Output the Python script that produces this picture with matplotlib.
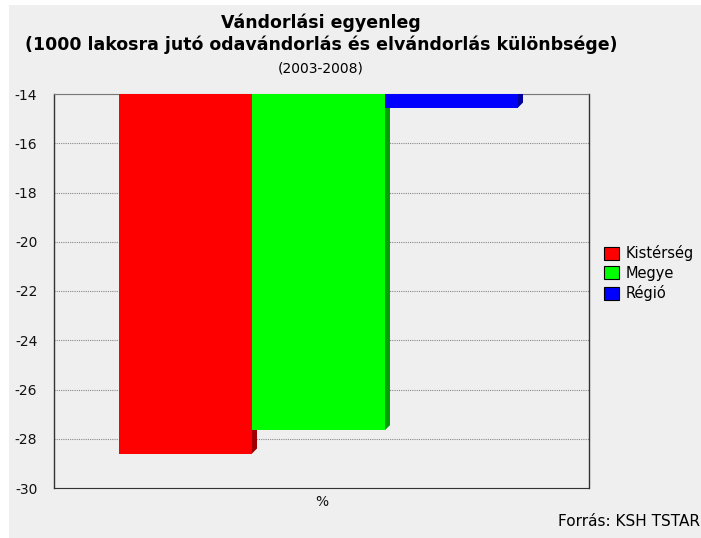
import matplotlib.pyplot as plt
from matplotlib.patches import Polygon, Patch

# values
series = ["Kistérség", "Megye", "Régió"]
values = [-28.6, -27.65, -14.55]
colors = ["#ff0000", "#00ff00", "#0000ff"]
side_colors = ["#a00000", "#00a000", "#0000a0"]
category = "%"
yticks = [-14, -16, -18, -20, -22, -24, -26, -28, -30]

BG = "#efefef"
plt.rcParams["font.family"] = ["DejaVu Sans"]
plt.rcParams["axes.unicode_minus"] = False

fig = plt.figure(figsize=(7.01, 5.38), dpi=100, facecolor="white")
fig.patches.append(plt.Rectangle((9 / 701, 0), 1, 1 - 5 / 538, transform=fig.transFigure,
                                 facecolor=BG, edgecolor="none", zorder=-10))
ax = fig.add_axes([54 / 701, 1 - 488 / 538, 535 / 701, 394 / 538])
ax.set_facecolor(BG)

ymin, ymax = -30, -14
xmin, xmax = -0.5, 0.5
ax.set_xlim(xmin, xmax)
ax.set_ylim(ymin, ymax)

w = 0.2486
# 3d depth of the side face, ~5px
ax_w_px, ax_h_px = 535, 394
dx = 5 * (xmax - xmin) / ax_w_px
dy = 5 * (ymax - ymin) / ax_h_px

for i, (name, v, c, sc) in enumerate(zip(series, values, colors, side_colors)):
    xc = (i - 1) * w - 3 * (xmax - xmin) / ax_w_px
    ax.bar(xc, v - ymax, bottom=ymax, width=w, color=c, edgecolor="none", zorder=3 + 2 * i)
    xr = xc + w / 2
    side = Polygon([(xr, v), (xr + dx, v + dy), (xr + dx, ymax), (xr, ymax)],
                   closed=True, facecolor=sc, edgecolor="none", zorder=4 + 2 * i,
                   clip_on=True)
    ax.add_patch(side)

ax.set_yticks(yticks)
ax.set_xticks([0])
ax.set_xticklabels([category])
ax.tick_params(axis="both", length=0, labelsize=10, colors="#111111")
ax.tick_params(axis="y", pad=12)
ax.tick_params(axis="x", pad=5)
ax.yaxis.grid(True, linestyle=(0, (1, 1)), color="#888888", linewidth=0.8, zorder=1)
ax.set_axisbelow(True)

for s in ["left", "right"]:
    ax.spines[s].set_color("#333333")
    ax.spines[s].set_linewidth(1.0)
ax.spines["top"].set_linestyle((0, (1, 1)))
ax.spines["top"].set_color("#777777")
ax.spines["bottom"].set_linestyle((0, (1, 1)))
ax.spines["bottom"].set_color("#333333")

fig.text(321 / 701, 1 - 23 / 538, "Vándorlási egyenleg", ha="center", va="center",
         fontsize=12.5, fontweight="bold")
fig.text(321 / 701, 1 - 45 / 538,
         "(1000 lakosra jutó odavándorlás és elvándorlás különbsége)",
         ha="center", va="center", fontsize=12.5, fontweight="bold")
fig.text(321 / 701, 1 - 68 / 538, "(2003-2008)", ha="center", va="center", fontsize=10)
fig.text(700 / 701, 1 - 521 / 538, "Forrás: KSH TSTAR", ha="right", va="center", fontsize=11)

handles = [Patch(facecolor=c, edgecolor="black", linewidth=0.8) for c in colors]
fig.legend(handles, series, loc="upper left", bbox_to_anchor=(597 / 701, 1 - 238 / 538),
           frameon=False, fontsize=10.5, handlelength=1.0, handleheight=1.0,
           handletextpad=0.45, labelspacing=0.3, borderpad=0)

fig.savefig("out.png", dpi=100, facecolor="white")
